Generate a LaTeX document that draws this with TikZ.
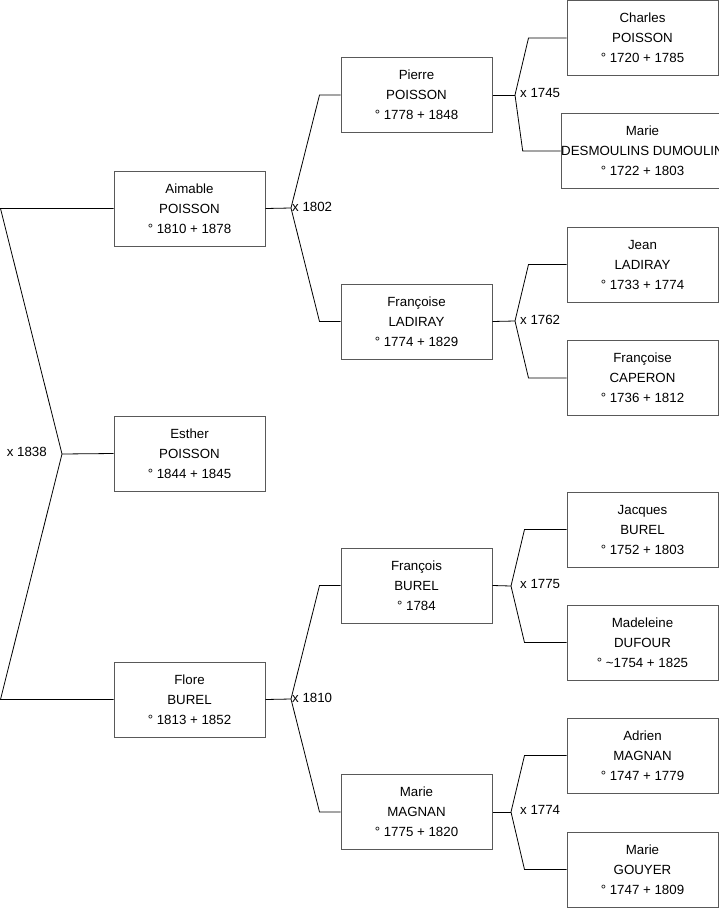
\documentclass[tikz,border=0pt]{standalone}
\usepackage{fontspec}
\setmainfont{Liberation Sans}
\usetikzlibrary{positioning}

\begin{document}
\begin{tikzpicture}[
    x=1pt, y=-1pt,
    font=\fontsize{13.3}{20}\selectfont,
    person/.style={draw=black!65, line width=1pt, minimum width=151pt, minimum height=75pt,
                   align=center, inner sep=0pt},
    wed/.style={anchor=west, inner sep=0pt},
    link/.style={black, line width=0.8pt}
]
    \useasboundingbox (0,0) rectangle (719,908);

    % generation 1
    \node[person] (aimable) at (189.5,208.5) {Aimable\\POISSON\\° 1810 + 1878};
    \node[person] (esther)  at (189.5,453.5) {Esther\\POISSON\\° 1844 + 1845};
    \node[person] (flore)   at (189.5,699.5) {Flore\\BUREL\\° 1813 + 1852};

    % generation 2
    \node[person] (pierre)    at (416.5,95)    {Pierre\\POISSON\\° 1778 + 1848};
    \node[person] (francoise) at (416.5,321.5) {Françoise\\LADIRAY\\° 1774 + 1829};
    \node[person] (francois)  at (416.5,585.5) {François\\BUREL\\° 1784};
    \node[person] (mariem)    at (416.5,812)   {Marie\\MAGNAN\\° 1775 + 1820};

    % generation 3
    \node[person] (charles)    at (642.5,38)    {Charles\\POISSON\\° 1720 + 1785};
    \node[person] (mariedd)    at (642.5,151)   {Marie\\DESMOULINS DUMOULIN\\° 1722 + 1803};
    \node[person] (jean)       at (642.5,264.5) {Jean\\LADIRAY\\° 1733 + 1774};
    \node[person] (francoisec) at (642.5,378)   {Françoise\\CAPERON\\° 1736 + 1812};
    \node[person] (jacques)    at (642.5,529.5) {Jacques\\BUREL\\° 1752 + 1803};
    \node[person] (madeleine)  at (642.5,642.5) {Madeleine\\DUFOUR\\° \textasciitilde 1754 + 1825};
    \node[person] (adrien)     at (642.5,755.5) {Adrien\\MAGNAN\\° 1747 + 1779};
    \node[person] (marieg)     at (642.5,869.5) {Marie\\GOUYER\\° 1747 + 1809};

    % marriages
    \coordinate (w1838) at (62,454);
    \coordinate (w1802) at (291,208);
    \coordinate (w1810) at (291,699);
    \coordinate (w1745) at (515,95);
    \coordinate (w1762) at (515,321);
    \coordinate (w1775) at (511,586);
    \coordinate (w1774) at (511,812);

    \node[inner sep=0pt, anchor=east] (l1838) at (47,452) {x 1838};
    \node[wed] (l1802) at (292,207) {x 1802};
    \node[wed] (l1810) at (292,698) {x 1810};
    \node[wed] (l1745) at (520,93)  {x 1745};
    \node[wed] (l1762) at (520,320) {x 1762};
    \node[wed] (l1775) at (520,584) {x 1775};
    \node[wed] (l1774) at (520,810) {x 1774};

    \draw[link] (aimable.west) -- ([xshift=-113pt]aimable.west) -- (w1838)
                -- ([xshift=-113pt]flore.west) -- (flore.west);
    \draw[link] (w1838) -- (esther.west);

    \draw[link] (aimable.east) -- (w1802);
    \draw[link] (pierre.west) -- ([xshift=-21pt]pierre.west) -- (w1802)
                -- ([xshift=-21pt]francoise.west) -- (francoise.west);
    \draw[link] (flore.east) -- (w1810);
    \draw[link] (francois.west) -- ([xshift=-21pt]francois.west) -- (w1810)
                -- ([xshift=-21pt]mariem.west) -- (mariem.west);

    \draw[link] (pierre.east) -- (w1745);
    \draw[link] (charles.west) -- ([xshift=-38pt]charles.west) -- (w1745)
                -- ([xshift=-38pt]mariedd.west) -- (mariedd.west);
    \draw[link] (francoise.east) -- (w1762);
    \draw[link] (jean.west) -- ([xshift=-38pt]jean.west) -- (w1762)
                -- ([xshift=-38pt]francoisec.west) -- (francoisec.west);
    \draw[link] (francois.east) -- (w1775);
    \draw[link] (jacques.west) -- ([xshift=-42pt]jacques.west) -- (w1775)
                -- ([xshift=-42pt]madeleine.west) -- (madeleine.west);
    \draw[link] (mariem.east) -- (w1774);
    \draw[link] (adrien.west) -- ([xshift=-42pt]adrien.west) -- (w1774)
                -- ([xshift=-42pt]marieg.west) -- (marieg.west);
\end{tikzpicture}
\end{document}
